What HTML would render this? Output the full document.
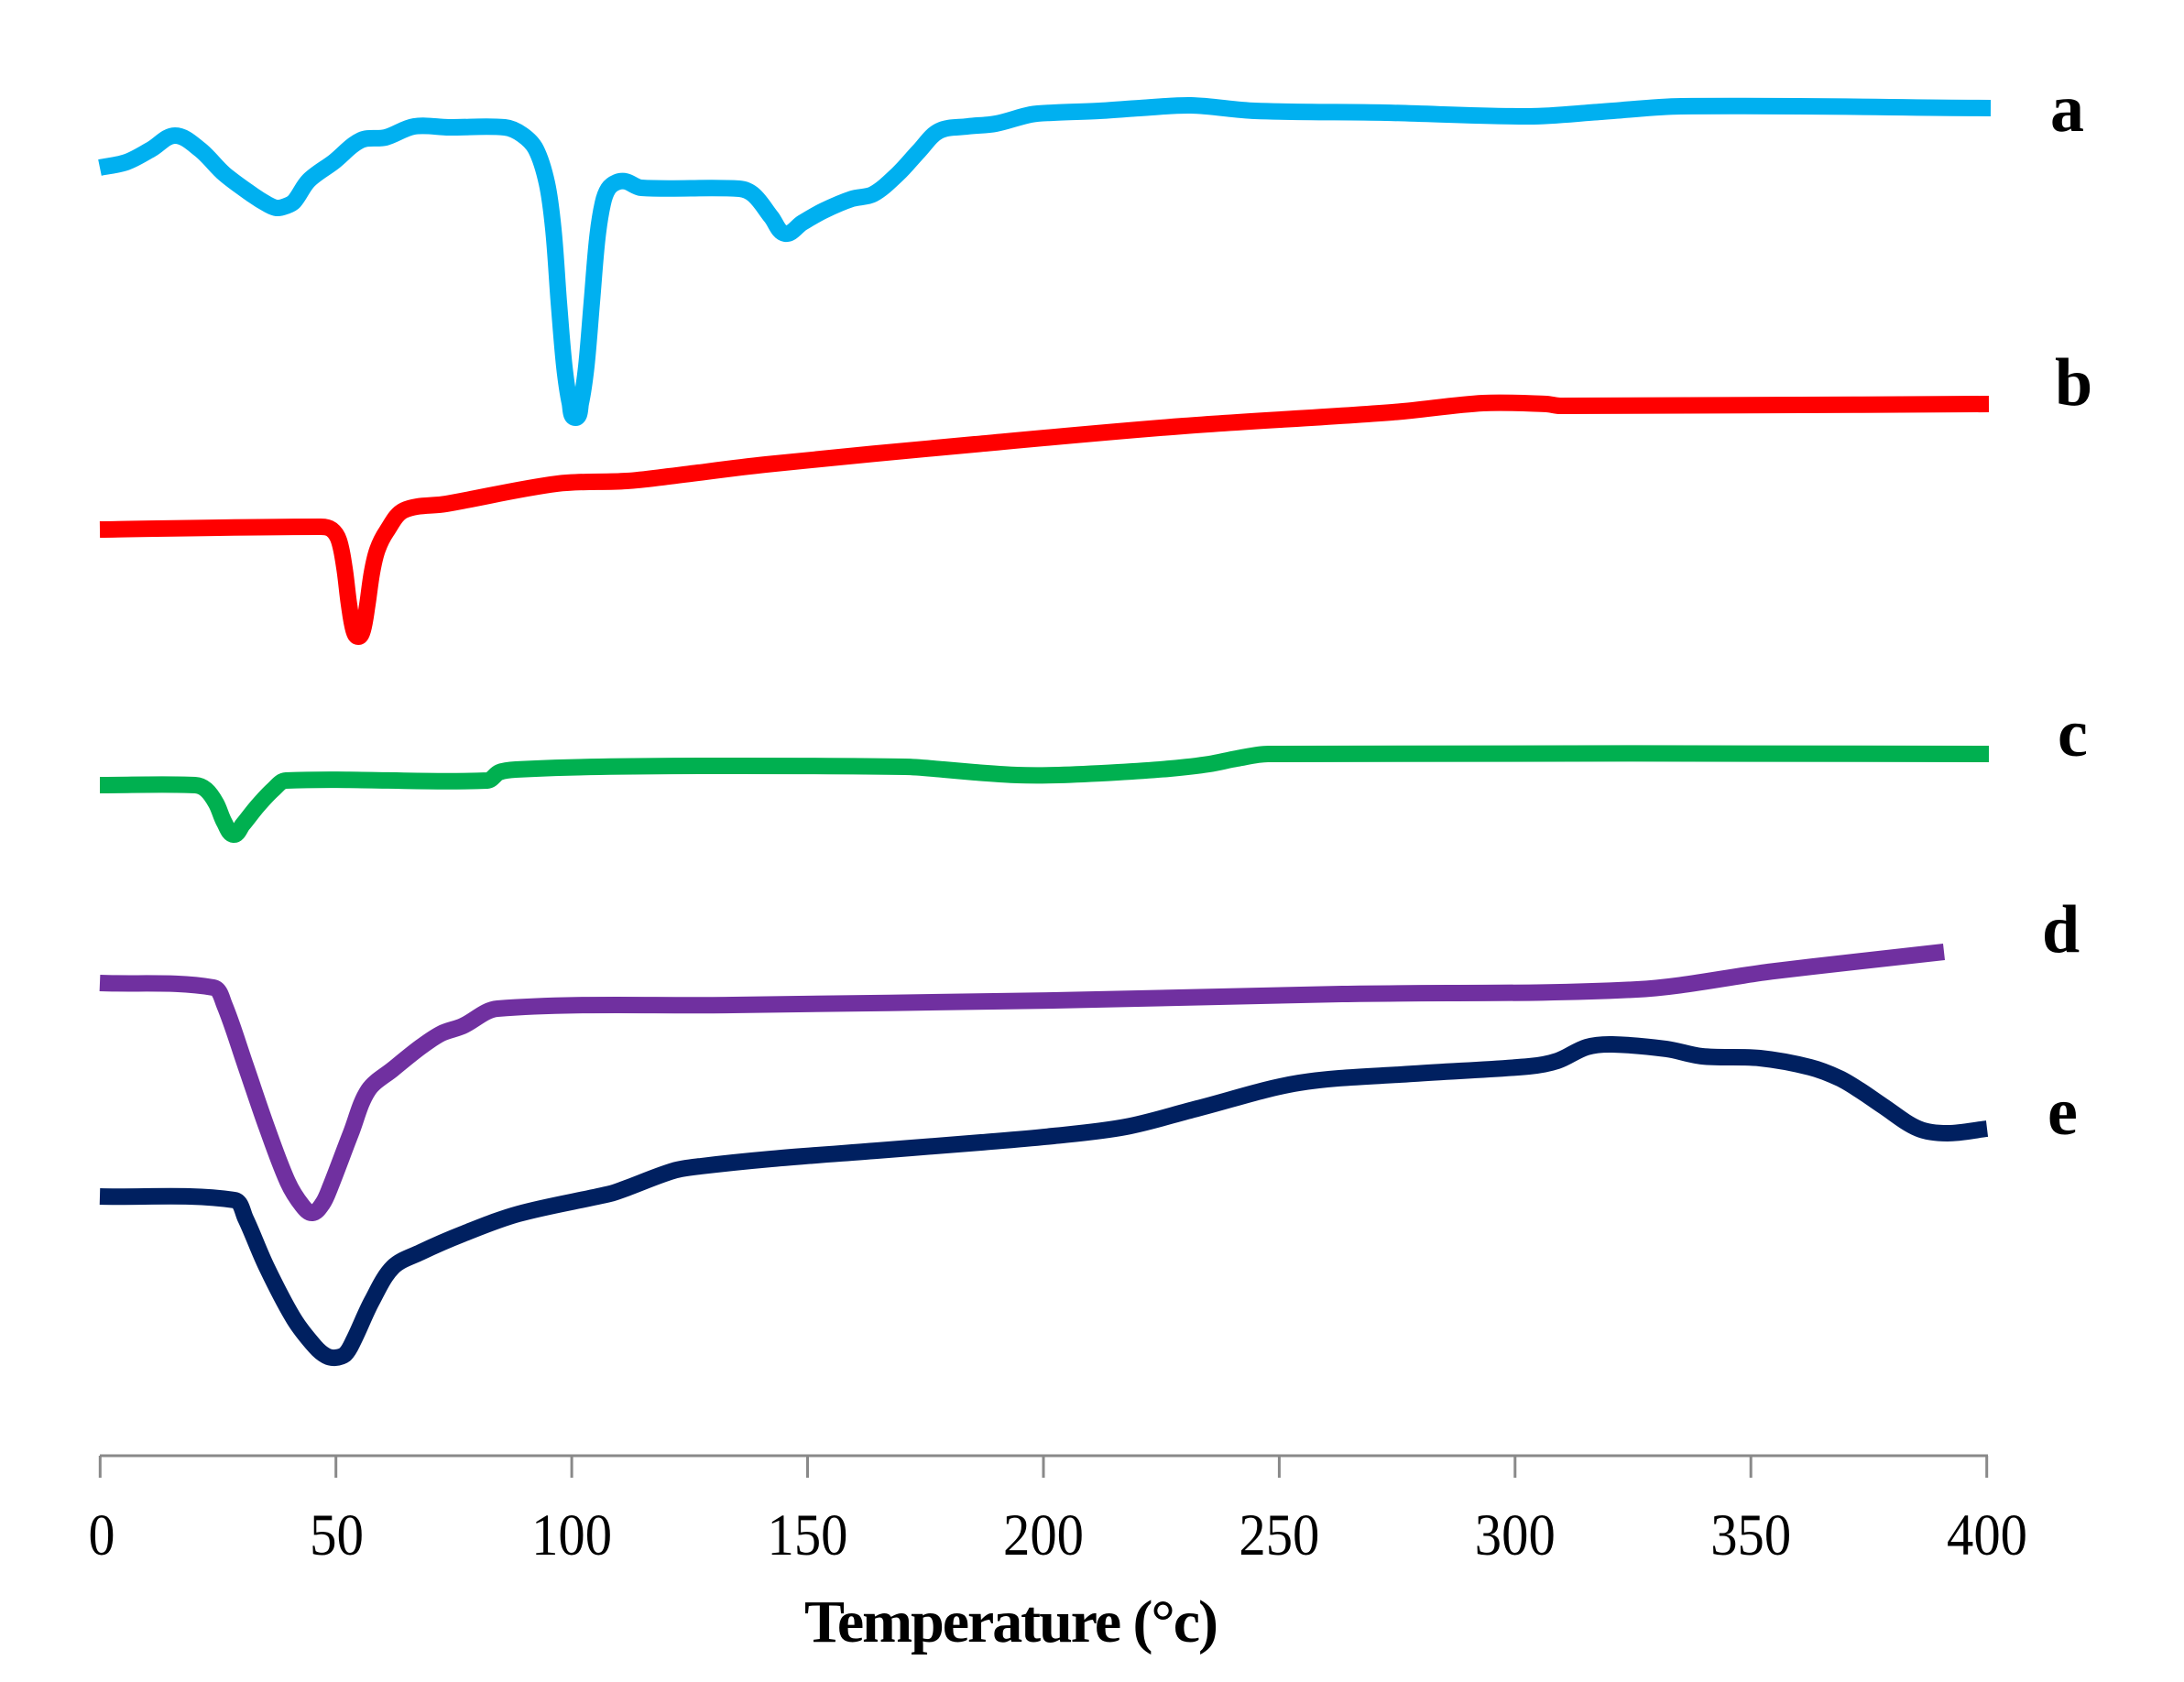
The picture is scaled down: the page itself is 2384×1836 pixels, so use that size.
<!DOCTYPE html>
<html>
<head>
<meta charset="utf-8">
<style>
html,body{margin:0;padding:0;background:#fff;}
svg{display:block;}
</style>
</head>
<body>
<svg id="chart" width="2384" height="1836" viewBox="0 0 2384 1836" xmlns="http://www.w3.org/2000/svg">
<rect width="2384" height="1836" fill="#fff"/>
<g fill="none" stroke-linejoin="round" stroke-linecap="butt" stroke-width="18">
<polyline class="sm" stroke="#00B0F0" points="109,183 138,177 165,163 191,148 218,163 245,190 276,213 292,223 302,227 312,225 321,220 337,197 364,177 394,153 421,150 452,138 490,139 551,139 570,147 585,163 597,200 604,250 610,330 616,400 622,440 628,456 634,440 640,400 646,330 652,260 658,222 664,206 673,199 683,198 700,205 807,206 823,213 842,237 857,255 876,243 899,230 930,217 953,212 980,190 1003,165 1025,143 1056,138 1087,135 1125,125 1150,123 1200,121 1244,118 1300,115 1370,121 1512,123 1669,127 1748,122 1835,116 2173,118"/>
<polyline class="sm" stroke="#FF0000" points="109,578 350,575 362,578 370,590 376,620 381,660 386,688 391,695 396,688 401,660 406,625 412,600 422,580 441,557 487,550 608,528 684,525 730,520 836,507 1064,485 1292,465 1520,450 1619,440 1688,441 1703,443 2171,441"/>
<polyline class="sm" stroke="#00B050" points="109,857 213,857 225,862 236,877 245,898 255,911 265,900 281,880 298,862 312,852 532,852 545,843 563,840 654,837 791,836 988,837 1030,840 1064,843 1110,846 1156,846 1220,843 1277,839 1320,834 1350,828 1384,823 2171,823"/>
<polyline class="sm" stroke="#7030A0" points="109,1073 233,1078 245,1097 268,1163 291,1230 314,1290 330,1316 341,1324 352,1314 360,1297 383,1237 402,1190 429,1167 459,1143 482,1128 505,1120 543,1101 800,1097 1150,1092 1465,1085 1787,1080 1937,1060 2122,1039"/>
<polyline class="sm" stroke="#002060" points="109,1306 256,1310 268,1330 291,1383 321,1440 344,1470 356,1480 366,1482 377,1478 386,1463 406,1420 429,1383 459,1367 505,1347 566,1325 666,1303 681,1298 735,1278 765,1273 842,1265 957,1256 1071,1247 1150,1240 1229,1230 1307,1210 1418,1182 1543,1172 1669,1164 1700,1158 1732,1143 1760,1140 1819,1145 1858,1153 1921,1155 1976,1165 2008,1177 2030,1190 2055,1207 2094,1232 2126,1237 2169,1232"/>
</g>
<g stroke="#898989" stroke-width="3" fill="none">
<line x1="109" y1="1589" x2="2170" y2="1589"/>
<line x1="109.3" y1="1589" x2="109.3" y2="1613"/>
<line x1="366.7" y1="1589" x2="366.7" y2="1613"/>
<line x1="624.1" y1="1589" x2="624.1" y2="1613"/>
<line x1="881.5" y1="1589" x2="881.5" y2="1613"/>
<line x1="1139" y1="1589" x2="1139" y2="1613"/>
<line x1="1396.4" y1="1589" x2="1396.4" y2="1613"/>
<line x1="1653.8" y1="1589" x2="1653.8" y2="1613"/>
<line x1="1911.2" y1="1589" x2="1911.2" y2="1613"/>
<line x1="2168.7" y1="1589" x2="2168.7" y2="1613"/>
</g>
<g font-family="'Liberation Serif', serif" font-size="65" fill="#000" text-anchor="middle">
<text x="111" y="1697" textLength="29" lengthAdjust="spacingAndGlyphs">0</text>
<text x="367.5" y="1697" textLength="59" lengthAdjust="spacingAndGlyphs">50</text>
<text x="624.1" y="1697" textLength="88" lengthAdjust="spacingAndGlyphs">100</text>
<text x="881.5" y="1697" textLength="88" lengthAdjust="spacingAndGlyphs">150</text>
<text x="1139" y="1697" textLength="88" lengthAdjust="spacingAndGlyphs">200</text>
<text x="1396.4" y="1697" textLength="88" lengthAdjust="spacingAndGlyphs">250</text>
<text x="1653.8" y="1697" textLength="88" lengthAdjust="spacingAndGlyphs">300</text>
<text x="1911.2" y="1697" textLength="88" lengthAdjust="spacingAndGlyphs">350</text>
<text x="2169" y="1697" textLength="88" lengthAdjust="spacingAndGlyphs">400</text>
</g>
<text x="878" y="1792" font-family="'Liberation Serif', serif" font-size="66" font-weight="bold" fill="#000" textLength="452" lengthAdjust="spacing">Temperature (°c)</text>
<g font-family="'Liberation Serif', serif" font-size="74" font-weight="bold" fill="#000">
<text x="2238" y="143">a</text>
<text x="2243" y="442">b</text>
<text x="2246" y="825">c</text>
<text x="2229" y="1039">d</text>
<text x="2235" y="1238">e</text>
</g>
</svg>
<script>
(function(){
  var NS="http://www.w3.org/2000/svg";
  function norm(x,y){var l=Math.sqrt(x*x+y*y)||1;return [x/l,y/l];}
  var pls=document.querySelectorAll("polyline.sm");
  for(var k=0;k<pls.length;k++){
    var pl=pls[k];
    var raw=pl.getAttribute("points").trim().split(/\s+/);
    var p=[];
    for(var i=0;i<raw.length;i++){var c=raw[i].split(",");p.push([+c[0],+c[1]]);}
    var n=p.length,t=[];
    for(var i=0;i<n;i++){
      var a=p[i>0?i-1:i],b=p[i<n-1?i+1:i];
      t.push(norm(b[0]-a[0],b[1]-a[1]));
    }
    var d="M"+p[0][0]+","+p[0][1];
    for(var i=0;i<n-1;i++){
      var p1=p[i],p2=p[i+1];
      var L=Math.sqrt((p2[0]-p1[0])*(p2[0]-p1[0])+(p2[1]-p1[1])*(p2[1]-p1[1]))/3;
      var c1x=p1[0]+t[i][0]*L,c1y=p1[1]+t[i][1]*L;
      var c2x=p2[0]-t[i+1][0]*L,c2y=p2[1]-t[i+1][1]*L;
      d+=" C"+c1x.toFixed(1)+","+c1y.toFixed(1)+" "+c2x.toFixed(1)+","+c2y.toFixed(1)+" "+p2[0]+","+p2[1];
    }
    var path=document.createElementNS(NS,"path");
    path.setAttribute("d",d);
    path.setAttribute("stroke",pl.getAttribute("stroke"));
    pl.parentNode.replaceChild(path,pl);
  }
})();
</script>
</body>
</html>
